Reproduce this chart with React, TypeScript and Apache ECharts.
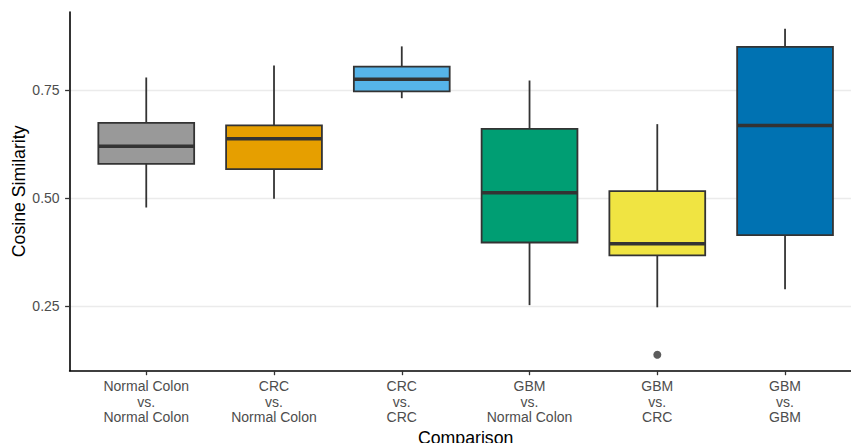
import React, { useEffect, useRef } from "react";
import * as echarts from "echarts";

const categories = [
  "Normal Colon\nvs.\nNormal Colon",
  "CRC\nvs.\nNormal Colon",
  "CRC\nvs.\nCRC",
  "GBM\nvs.\nNormal Colon",
  "GBM\nvs.\nCRC",
  "GBM\nvs.\nGBM",
];
// [lower whisker, Q1, median, Q3, upper whisker]
const boxStats = [
  [0.478, 0.579, 0.62, 0.674, 0.779],
  [0.498, 0.567, 0.637, 0.668, 0.807],
  [0.731, 0.747, 0.775, 0.804, 0.851],
  [0.252, 0.397, 0.512, 0.66, 0.772],
  [0.247, 0.367, 0.394, 0.516, 0.671],
  [0.289, 0.414, 0.668, 0.85, 0.892],
];
const outliers = [[5, 0.137]];
const fills = ["#999999", "#E69F00", "#56B4E9", "#009E73", "#F0E442", "#0072B2"];
const yTicks = [0.25, 0.5, 0.75];
const xTicks = [1, 2, 3, 4, 5, 6];

export default function App() {
  const ref = useRef<HTMLDivElement>(null);
  useEffect(() => {
    if (!ref.current) return;
    const chart = echarts.init(ref.current, null, { renderer: "svg" });
    const font = "Liberation Sans, Arial, Helvetica, sans-serif";
    const outline = "#333333";
    const boxData = boxStats.map((s, i) => [i + 1, ...s]);
    chart.setOption({
      animation: false,
      backgroundColor: "#ffffff",
      grid: {
        left: 69.6,
        top: 12,
        width: 792.1,
        height: 358.7,
        containLabel: false,
        outerBoundsMode: "none",
      },
      xAxis: {
        type: "value",
        min: 0.4,
        max: 6.6,
        name: "Comparison",
        nameLocation: "middle",
        nameGap: 58,
        nameMoveOverlap: false,
        nameTextStyle: { fontFamily: font, fontSize: 17.7, color: "#000000" },
        axisLine: { show: true, onZero: false, lineStyle: { color: "#000000", width: 1.6 } },
        axisTick: { show: true, length: 4.5, customValues: xTicks, lineStyle: { color: "#333333", width: 1.3 } },
        axisLabel: {
          customValues: xTicks,
          formatter: (v: number) => categories[Math.round(v) - 1] ?? "",
          fontFamily: font,
          fontSize: 14,
          lineHeight: 15.4,
          color: "#4D4D4D",
          margin: 8,
        },
        splitLine: { show: false },
      },
      yAxis: {
        type: "value",
        min: 0.1002,
        max: 0.9306,
        name: "Cosine Similarity",
        nameLocation: "middle",
        nameGap: 42,
        nameMoveOverlap: false,
        nameTextStyle: { fontFamily: font, fontSize: 17.7, color: "#000000" },
        axisLine: { show: true, onZero: false, lineStyle: { color: "#000000", width: 1.6 } },
        axisTick: { show: true, length: 4.5, customValues: yTicks, lineStyle: { color: "#333333", width: 1.3 } },
        axisLabel: {
          customValues: yTicks,
          formatter: (v: number) => v.toFixed(2),
          fontFamily: font,
          fontSize: 14,
          color: "#4D4D4D",
          margin: 10,
        },
        splitLine: { show: true, lineStyle: { color: "#EBEBEB", width: 1.4 } },
      },
      series: [
        {
          type: "custom",
          data: boxData,
          clip: false,
          renderItem: (params: any, api: any) => {
            const x = api.value(0);
            const lo = api.coord([x, api.value(1)]);
            const q1 = api.coord([x, api.value(2)]);
            const med = api.coord([x, api.value(3)]);
            const q3 = api.coord([x, api.value(4)]);
            const hi = api.coord([x, api.value(5)]);
            const w = api.size([0.75, 0])[0];
            const cx = lo[0];
            const left = cx - w / 2;
            const idx = params.dataIndex;
            return {
              type: "group",
              children: [
                {
                  type: "line",
                  shape: { x1: cx, y1: hi[1], x2: cx, y2: q3[1] },
                  style: { stroke: outline, lineWidth: 1.8 },
                },
                {
                  type: "line",
                  shape: { x1: cx, y1: q1[1], x2: cx, y2: lo[1] },
                  style: { stroke: outline, lineWidth: 1.8 },
                },
                {
                  type: "rect",
                  shape: { x: left, y: q3[1], width: w, height: q1[1] - q3[1] },
                  style: { fill: fills[idx], stroke: outline, lineWidth: 1.8 },
                },
                {
                  type: "line",
                  shape: { x1: left, y1: med[1], x2: left + w, y2: med[1] },
                  style: { stroke: outline, lineWidth: 3.5 },
                },
              ],
            };
          },
        },
        {
          type: "scatter",
          data: outliers,
          symbol: "circle",
          symbolSize: 8,
          itemStyle: { color: outline },
        },
      ],
    });
    return () => chart.dispose();
  }, []);
  return <div ref={ref} style={{ width: 851, height: 443, position: "absolute", left: 0, top: 0 }} />;
}
